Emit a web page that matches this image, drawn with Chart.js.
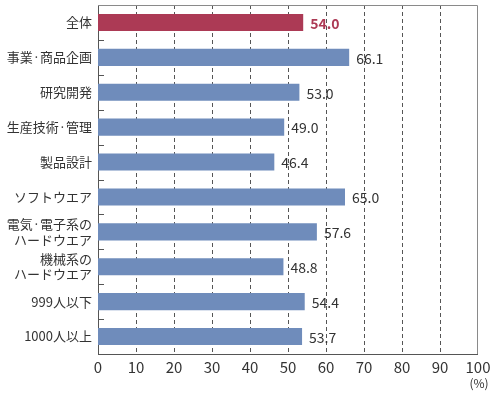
<!DOCTYPE html>
<html>
<head>
<meta charset="utf-8">
<script src="https://cdn.jsdelivr.net/npm/chart.js@4"></script>
<style>
  html, body { margin: 0; padding: 0; background: #fff; }
  #wrap { width: 500px; height: 393px; }
</style>
</head>
<body>
<div id="wrap"><canvas id="chart" width="500" height="393"></canvas></div>
<script>
// Categories and values
const categories = [
    '全体',
    '事業·商品企画',
    '研究開発',
    '生産技術·管理',
    '製品設計',
    'ソフトウエア',
    ['電気·電子系の', 'ハードウエア'],
    ['機械系の', 'ハードウエア'],
    '999人以下',
    '1000人以上'
];
const values = [54.0, 66.1, 53.0, 49.0, 46.4, 65.0, 57.6, 48.8, 54.4, 53.7];
const xTicks = [0, 10, 20, 30, 40, 50, 60, 70, 80, 90, 100];

const FONT = '"Noto Sans CJK JP", "Noto Sans", sans-serif';
const RED = '#ac3a55';
const BLUE = '#6f8cbb';

const barColors = values.map((v, i) => i === 0 ? RED : BLUE);

// Draws value labels, frame and the short category ticks
const decorPlugin = {
    id: 'decor',
    afterDatasetsDraw(chart) {
        const ctx = chart.ctx;
        const area = chart.chartArea;
        const y = chart.scales.y;

        // top and right frame
        ctx.save();
        ctx.strokeStyle = '#8a8a8a';
        ctx.lineWidth = 1;
        ctx.beginPath();
        ctx.moveTo(area.left, area.top + 0.5);
        ctx.lineTo(area.right - 0.5, area.top + 0.5);
        ctx.lineTo(area.right - 0.5, area.bottom);
        ctx.stroke();

        // short ticks between categories
        ctx.strokeStyle = '#555';
        ctx.beginPath();
        for (let i = 0; i < categories.length - 1; i++) {
            const py = Math.round((y.getPixelForValue(i) + y.getPixelForValue(i + 1)) / 2) + 0.5;
            ctx.moveTo(area.left, py);
            ctx.lineTo(area.left + 6, py);
        }
        ctx.stroke();

        // value labels
        const meta = chart.getDatasetMeta(0);
        ctx.textBaseline = 'middle';
        ctx.textAlign = 'left';
        meta.data.forEach((bar, i) => {
            if (i === 0) {
                ctx.fillStyle = RED;
                ctx.font = 'bold 14px ' + FONT;
            } else {
                ctx.fillStyle = '#333';
                ctx.font = '14px ' + FONT;
            }
            ctx.fillText(values[i].toFixed(1), bar.x + 7, bar.y + 1);
        });

        // unit label
        ctx.fillStyle = '#333';
        ctx.font = '12px ' + FONT;
        ctx.textAlign = 'center';
        ctx.fillText('(%)', chart.scales.x.getPixelForValue(100) + 1, 383);
        ctx.restore();
    }
};

new Chart(document.getElementById('chart'), {
    type: 'bar',
    data: {
        labels: categories,
        datasets: [{
            data: values,
            backgroundColor: barColors,
            borderColor: barColors,
            borderWidth: 0,
            barPercentage: 0.49,
            categoryPercentage: 1.0
        }]
    },
    options: {
        indexAxis: 'y',
        responsive: false,
        animation: false,
        layout: {
            padding: { top: 5, right: 22, left: 0, bottom: 0 }
        },
        plugins: {
            legend: { display: false },
            tooltip: { enabled: false }
        },
        scales: {
            x: {
                min: 0,
                max: 100,
                afterBuildTicks: function(scale) {
                    scale.ticks = xTicks.map(v => ({ value: v }));
                },
                afterFit: function(scale) {
                    scale.height = 39;
                },
                grid: {
                    color: '#555',
                    lineWidth: function(c) {
                        return (c.tick && (c.tick.value === 0 || c.tick.value === 100)) ? 0 : 1;
                    },
                    drawTicks: false
                },
                border: {
                    display: true,
                    color: '#555',
                    dash: [4, 3]
                },
                ticks: {
                    color: '#333',
                    font: { family: FONT, size: 15 },
                    padding: 4,
                    maxRotation: 0
                }
            },
            y: {
                afterFit: function(scale) {
                    scale.width = 98;
                    scale.paddingTop = 0;
                    scale.paddingBottom = 0;
                },
                grid: {
                    display: false,
                    drawTicks: false,
                    tickLength: 0
                },
                border: {
                    display: true,
                    color: '#555'
                },
                ticks: {
                    autoSkip: false,
                    color: '#333',
                    font: { family: FONT, size: 13, lineHeight: 1.2 },
                    padding: 6
                }
            }
        }
    },
    plugins: [decorPlugin]
});
</script>
</body>
</html>
